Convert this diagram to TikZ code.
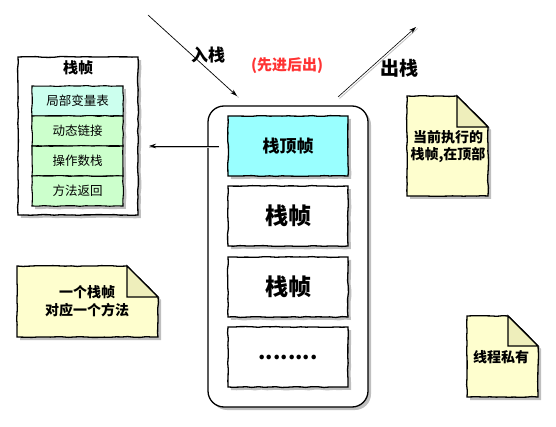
\documentclass[tikz,border=0pt]{standalone}
\usepackage{fontspec}
\setmainfont{Noto Sans CJK SC}
\usetikzlibrary{arrows.meta,shadows,decorations.pathmorphing}
\definecolor{notefill}{HTML}{FEFECE}
\definecolor{foldfill}{HTML}{EEEEBB}
\definecolor{topfill}{HTML}{99FFFF}
\definecolor{mintfill}{HTML}{CCFFEE}
\definecolor{greenfill}{HTML}{CCFFCC}
\definecolor{redtext}{HTML}{FF3333}
\begin{document}
\begin{tikzpicture}[x=1pt,y=-1pt,
  sk/.style={decorate,decoration={random steps,segment length=6pt,amplitude=0.45pt}},
  shad/.style={drop shadow={shadow xshift=3pt,shadow yshift=-3pt,fill=black,opacity=0.25}},
  boxline/.style={draw=black,line width=1.3pt},
  framebox/.style={boxline,sk,shad,fill=white,minimum width=120pt,minimum height=158pt,inner sep=0pt},
  rowbox/.style={draw=black,line width=1.1pt,sk,minimum width=91pt,minimum height=30pt,inner sep=0pt,font=\fontsize{12.5}{14}\selectfont},
  framecell/.style={boxline,sk,shad,fill=white,minimum width=120pt,minimum height=60pt,inner sep=0pt,font=\bfseries\fontsize{23}{26}\selectfont},
  notetext/.style={align=center,font=\bfseries\fontsize{14}{17}\selectfont,inner sep=0pt},
  lbl/.style={font=\bfseries,inner sep=0pt},
  flow/.style={draw=black,line width=0.6pt,-{Stealth[length=7pt,width=4.5pt]}},
  flowshadow/.style={draw=black!25,line width=0.8pt},
  notepath/.style={boxline,sk,fill=notefill},
  foldpath/.style={draw=black,line width=1.1pt,fill=foldfill}
]
\pgfmathsetseed{7}
\useasboundingbox (0,0) rectangle (556,427);

% ---- left frame: stack frame structure ----
\node[framebox] (sframe) at (78,136) {};
\node[lbl,font=\bfseries\fontsize{15}{17}\selectfont] (sftitle) at (78,68) {栈帧};
\node[rowbox,fill=mintfill,shad] (row1) at (77.5,101) {局部变量表};
\node[rowbox,fill=greenfill,shad] (row2) at (77.5,131) {动态链接};
\node[rowbox,fill=greenfill,shad] (row3) at (77.5,161) {操作数栈};
\node[rowbox,fill=greenfill,shad] (row4) at (77.5,191) {方法返回};

% ---- stack container ----
\node[boxline,shad,fill=white,rounded corners=16pt,minimum width=160pt,minimum height=301pt,inner sep=0pt] (stack) at (288,256.5) {};
\node[framecell,fill=topfill,font=\bfseries\fontsize{17}{20}\selectfont] (top) at (288,146) {栈顶帧};
\node[framecell] (f2) at (288,216) {栈帧};
\node[framecell] (f3) at (288,287) {栈帧};
\node[framecell,font=\bfseries\fontsize{21}{24}\selectfont] (f4) at (288,357) {........};

% ---- arrows ----
\coordinate (pushstart) at (148,15);
\coordinate (pushend) at (237,96);
\coordinate (popstart) at (338,97);
\coordinate (popend) at (416,27);
\coordinate (leftstart) at (219,146);
\coordinate (leftend) at (149,146);
\draw[flowshadow] ([shift={(1.5,1.5)}]pushstart) -- ([shift={(1.5,1.5)}]pushend);
\draw[flow] (pushstart) -- (pushend);
\draw[flowshadow] ([shift={(1.5,1.5)}]popstart) -- ([shift={(1.5,1.5)}]popend);
\draw[flow] (popstart) -- (popend);
\draw[flowshadow] ([shift={(0,1.5)}]leftstart) -- ([shift={(0,1.5)}]leftend);
\draw[flow] (leftstart) -- (leftend);

\node[lbl,font=\bfseries\fontsize{17}{20}\selectfont] (pushlbl) at (208,55) {入栈};
\node[lbl,font=\bfseries\fontsize{15}{18}\selectfont,text=redtext] (lifo) at (287,66) {(先进后出)};
\node[lbl,font=\bfseries\fontsize{19}{22}\selectfont] (poplbl) at (399,68) {出栈};

% ---- notes ----
% note 1
\fill[black,opacity=0.25] (410,99) -- (460,99) -- (491,130) -- (491,199) -- (410,199) -- cycle;
\path[notepath] (407,96) -- (457,96) -- (488,127) -- (488,196) -- (407,196) -- cycle;
\path[foldpath] (457,96) -- (457,127) -- (488,127) -- cycle;
\node[notetext] (note1) at (448,147) {当前执行的\\栈帧,在顶部};
% note 2
\fill[black,opacity=0.25] (20,269) -- (130,269) -- (161,300) -- (161,340) -- (20,340) -- cycle;
\path[notepath] (17,266) -- (127,266) -- (158,297) -- (158,337) -- (17,337) -- cycle;
\path[foldpath] (127,266) -- (127,297) -- (158,297) -- cycle;
\node[notetext,font=\bfseries\fontsize{14}{18}\selectfont] (note2) at (87,301) {一个栈帧\\对应一个方法};
% note 3
\fill[black,opacity=0.25] (470,319) -- (511,319) -- (541,349) -- (541,400) -- (470,400) -- cycle;
\path[notepath] (467,316) -- (508,316) -- (538,346) -- (538,397) -- (467,397) -- cycle;
\path[foldpath] (508,316) -- (508,346) -- (538,346) -- cycle;
\node[notetext] (note3) at (501,357) {线程私有};
\end{tikzpicture}
\end{document}
